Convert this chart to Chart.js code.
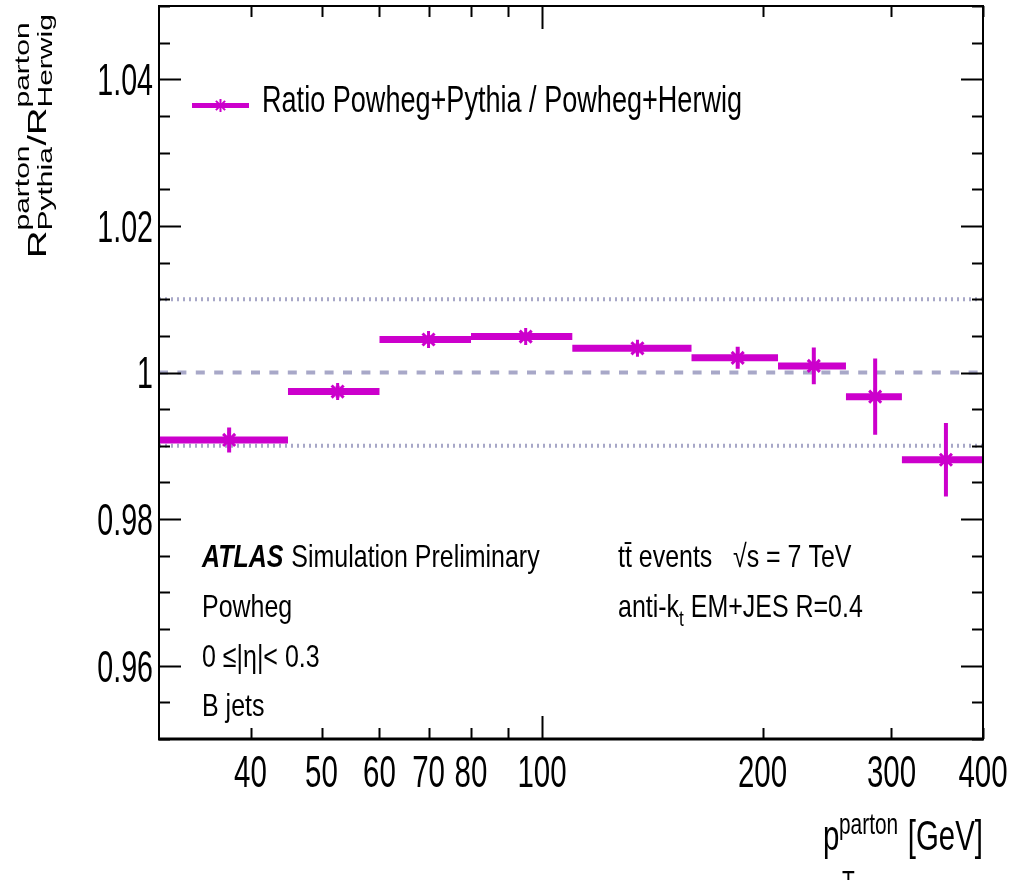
<!DOCTYPE html>
<html><head><meta charset="utf-8">
<script src="https://cdn.jsdelivr.net/npm/chart.js@4.4.1/dist/chart.umd.min.js"></script>
<style>html,body{margin:0;padding:0;background:#fff}#wrap{width:1028px;height:880px;position:relative}</style>
</head><body><div id="wrap"><canvas id="c"></canvas></div>
<script>
// ---- data ----
const binLow  = [30, 45, 60, 80, 110, 160, 210, 260, 310];
const binHigh = [45, 60, 80, 110, 160, 210, 260, 310, 400];
const binCenter = [37.4, 52.6, 70.0, 95.0, 135, 185, 235, 285, 356];
const ratio = [0.9908, 0.9974, 1.0045, 1.0049, 1.0033, 1.0020, 1.0009, 0.9967, 0.9881];
const ratioErr = [0.0017, 0.0008, 0.0006, 0.0006, 0.0007, 0.0015, 0.0025, 0.0052, 0.0050];
const xTickLabels = [40, 50, 60, 70, 80, 100, 200, 300, 400];
const xMinorTicks = [40, 50, 60, 70, 80, 90, 200, 300, 400];
const xMajorTicks = [100];
const yTickValues = [0.96, 0.98, 1.00, 1.02, 1.04];
const yTickText = ['0.96', '0.98', '1', '1.02', '1.04'];
const refDashed = [1.00];
const refDotted = [1.01, 0.99];
const legendLabel = 'Ratio Powheg+Pythia / Powheg+Herwig';

const MAG = '#cc00cc';
const REF = 'rgb(168,168,200)';
const FONT = '"Liberation Sans", Arial, Helvetica, sans-serif';

// build line-segment data from arrays
const barData = [];
binLow.forEach((lo, i) => { barData.push({x: lo, y: ratio[i]}, {x: binHigh[i], y: ratio[i]}, {x: binHigh[i], y: null}); });
const errData = [];
binCenter.forEach((c, i) => { errData.push({x: c, y: ratio[i] - ratioErr[i]}, {x: c, y: ratio[i] + ratioErr[i]}, {x: c, y: null}); });
const markData = binCenter.map((c, i) => ({x: c, y: ratio[i]}));
const xMin = binLow[0], xMax = binHigh[binHigh.length - 1];
const dashData = [];
refDashed.forEach(v => dashData.push({x: xMin, y: v}, {x: xMax, y: v}, {x: xMax, y: null}));
const dotData = [];
refDotted.forEach(v => dotData.push({x: xMin, y: v}, {x: xMax, y: v}, {x: xMax, y: null}));

function txt(ctx, s, x, y, size, sx, align, style) {
  ctx.save();
  ctx.font = (style ? style + ' ' : '') + size + 'px ' + FONT;
  const w = ctx.measureText(s).width * sx;
  const x0 = align === 'right' ? x - w : (align === 'center' ? x - w / 2 : x);
  ctx.translate(x0, y); ctx.scale(sx, 1);
  ctx.textAlign = 'left'; ctx.textBaseline = 'alphabetic'; ctx.fillStyle = '#000';
  ctx.fillText(s, 0, 0);
  ctx.restore();
  return w;
}
function seg(ctx, x1, y1, x2, y2) { ctx.beginPath(); ctx.moveTo(x1, y1); ctx.lineTo(x2, y2); ctx.stroke(); }

const decor = {
  id: 'decor',
  afterDraw(chart) {
    const {ctx, chartArea: a, scales: {x, y}} = chart;
    ctx.save();
    ctx.strokeStyle = '#000'; ctx.lineWidth = 2;
    ctx.strokeRect(a.left, a.top, a.right - a.left, a.bottom - a.top);
    ctx.lineWidth = 3; seg(ctx, a.left - 1, a.bottom, a.right + 1, a.bottom);
    ctx.lineWidth = 2;
    // y ticks (left & right)
    for (let i = 0; i <= 20; i++) {
      const v = 0.95 + i * 0.005;
      const py = Math.round(y.getPixelForValue(v)) + 0.5;
      const L = (i % 4 === 2) ? 22 : 11;
      seg(ctx, a.left, py, a.left + L, py);
      seg(ctx, a.right, py, a.right - L, py);
    }
    // x ticks (bottom & top)
    xMinorTicks.forEach(v => { const px = Math.round(x.getPixelForValue(v)) + 0.5; seg(ctx, px, a.bottom, px, a.bottom - 11); seg(ctx, px, a.top, px, a.top + 11); });
    xMajorTicks.forEach(v => { const px = Math.round(x.getPixelForValue(v)) + 0.5; seg(ctx, px, a.bottom, px, a.bottom - 23); seg(ctx, px, a.top, px, a.top + 23); });
    // tick labels
    yTickValues.forEach((v, i) => { const py = y.getPixelForValue(v); txt(ctx, yTickText[i], 153, py + 15.8, 44, 0.65, 'right'); });
    xTickLabels.forEach(v => { const px = x.getPixelForValue(v); txt(ctx, String(v), px, 787, 44, 0.67, 'center'); });
    // x title
    txt(ctx, 'p', 823, 850, 42, 0.7, 'left');
    txt(ctx, 'parton', 839, 834, 29, 0.72, 'left');
    txt(ctx, 'T', 842, 891, 29, 0.72, 'left');
    txt(ctx, '[GeV]', 983, 850, 42, 0.7, 'right');
    // y title (rotated)
    ctx.save();
    ctx.translate(46, 258); ctx.scale(0.66, 1); ctx.rotate(-Math.PI / 2);
    ctx.fillStyle = '#000'; ctx.textAlign = 'left'; ctx.textBaseline = 'alphabetic';
    const big = '38px ' + FONT, small = '30px ' + FONT;
    let u = 0;
    ctx.font = big; ctx.fillText('R', u, 0); u += ctx.measureText('R').width;
    ctx.font = small; ctx.fillText('parton', u, -26.5); ctx.fillText('Pythia', u, 9.5);
    u += Math.max(ctx.measureText('parton').width, ctx.measureText('Pythia').width);
    ctx.font = big; ctx.fillText('/', u, 0); u += ctx.measureText('/').width;
    ctx.fillText('R', u, 0); u += ctx.measureText('R').width;
    ctx.font = small; ctx.fillText('parton', u, -26.5); ctx.fillText('Herwig', u, 9.5);
    ctx.restore();
    // legend
    ctx.strokeStyle = MAG; ctx.lineWidth = 5; ctx.lineCap = 'butt';
    seg(ctx, 192, 105.5, 249, 105.5);
    ctx.lineWidth = 2;
    const r = 6.5, d = r * Math.SQRT1_2;
    seg(ctx, 220.5, 105.5 - r, 220.5, 105.5 + r);
    seg(ctx, 220.5 - d, 105.5 - d, 220.5 + d, 105.5 + d);
    seg(ctx, 220.5 - d, 105.5 + d, 220.5 + d, 105.5 - d);
    txt(ctx, legendLabel, 262, 112, 36, 0.752, 'left');
    // annotations
    const wA = txt(ctx, 'ATLAS', 202, 567, 32, 0.78, 'left', 'italic bold');
    txt(ctx, 'Simulation Preliminary', 202 + wA + 8, 567, 32, 0.78, 'left');
    txt(ctx, 'Powheg', 202, 617, 32, 0.78, 'left');
    txt(ctx, '0 \u2264|\u03b7|< 0.3', 202, 667, 32, 0.78, 'left');
    txt(ctx, 'B jets', 202, 716, 32, 0.78, 'left');
    txt(ctx, 't\u0074\u0304 events', 618, 567, 32, 0.78, 'left');
    txt(ctx, '\u221as = 7 TeV', 733, 567, 32, 0.78, 'left');
    const wk = txt(ctx, 'anti-k', 618, 617, 32, 0.78, 'left');
    const wt = txt(ctx, 't', 618 + wk, 626, 22, 0.78, 'left');
    txt(ctx, ' EM+JES R=0.4', 618 + wk + wt, 617, 32, 0.78, 'left');
    ctx.restore();
  }
};

new Chart(document.getElementById('c'), {
  type: 'line',
  data: {
    datasets: [
      { label: 'markers', data: markData, showLine: false, pointStyle: 'star', pointRadius: 8.5, pointBorderWidth: 3, pointBorderColor: MAG, pointBackgroundColor: MAG, order: 0 },
      { label: 'errors', data: errData, borderColor: MAG, borderWidth: 4, pointRadius: 0, spanGaps: false, borderCapStyle: 'butt', order: 1 },
      { label: legendLabel, data: barData, borderColor: MAG, borderWidth: 7, pointRadius: 0, spanGaps: false, borderCapStyle: 'butt', order: 2 },
      { label: 'ref', data: dashData, borderColor: REF, borderWidth: 4, borderDash: [9, 9.4], pointRadius: 0, spanGaps: false, borderCapStyle: 'butt', order: 5 },
      { label: 'ref2', data: dotData, borderColor: REF, borderWidth: 4, borderDash: [2, 4], pointRadius: 0, spanGaps: false, borderCapStyle: 'butt', order: 6 }
    ]
  },
  options: {
    animation: false, responsive: true, maintainAspectRatio: false, devicePixelRatio: 1,
    layout: { autoPadding: false, padding: { left: 159, right: 45, top: 6, bottom: 141 } },
    plugins: { legend: { display: false }, tooltip: { enabled: false } },
    scales: {
      x: { type: 'logarithmic', min: 30, max: 400, display: false },
      y: { type: 'linear', min: 0.95, max: 1.05, display: false }
    }
  },
  plugins: [decor]
});
</script></body></html>
